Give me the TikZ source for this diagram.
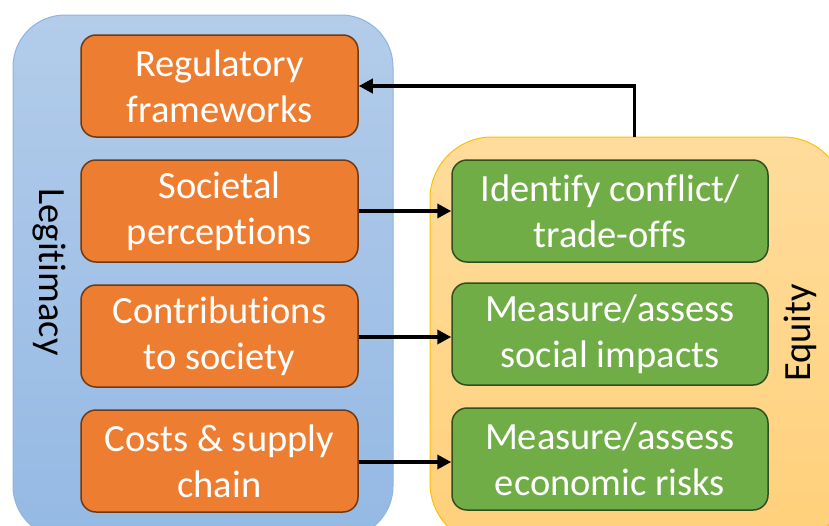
\documentclass[tikz,border=0pt]{standalone}
\usepackage{fontspec}
\setmainfont[RawFeature={-liga;-clig;-dlig}]{Carlito}
\usetikzlibrary{arrows.meta}
\definecolor{orfill}{HTML}{ED7D31}
\definecolor{ordraw}{HTML}{6E3A14}
\definecolor{grfill}{HTML}{70AD47}
\definecolor{grdraw}{HTML}{2F4F1F}
\definecolor{bltop}{HTML}{B3CCEA}
\definecolor{blbot}{HTML}{94B9E4}
\definecolor{bldraw}{HTML}{8DB4E2}
\definecolor{yltop}{HTML}{FFDC9C}
\definecolor{ylbot}{HTML}{FFD07A}
\definecolor{yldraw}{HTML}{FFC000}
\tikzset{
  box/.style={rounded corners=15pt, line width=1.5pt, minimum width=277pt, minimum height=102pt,
    text=white, align=center, inner sep=0pt,
    font=\fontsize{38.5}{46}\selectfont},
  obox/.style={box, fill=orfill, draw=ordraw},
  gbox/.style={box, fill=grfill, draw=grdraw, minimum width=316pt},
  conn/.style={line width=3.5pt, -{Triangle[length=14pt,width=14pt]}},
  lbl/.style={font=\fontsize{38.5}{44}\selectfont, text=black}
}
\begin{document}
\begin{tikzpicture}[x=1pt,y=-1pt]
\useasboundingbox (0,0) rectangle (829,525);
\clip (0,0) rectangle (829,525);
\fill[white] (0,0) rectangle (829,525);
% containers
\shade[top color=bltop, bottom color=blbot, draw=bldraw, line width=1pt, rounded corners=52pt]
  (13,15) rectangle (393,538);
\shade[top color=yltop, bottom color=ylbot, draw=yldraw, line width=1pt, rounded corners=62pt]
  (430,137) rectangle (845,545);
\node[lbl, rotate=-90] (legit) at (49,272) {Legitimacy};
\node[lbl, rotate=90] (equity) at (800,333) {Equity};
% orange boxes
\node[obox] (reg) at (219.5,86) {Regulatory\\frameworks};
\node[obox] (soc) at (219.5,211) {Societal\\perceptions};
\node[obox] (con) at (219.5,336) {Contributions\\to society};
\node[obox] (cost) at (219.5,461) {Costs \& supply\\chain};
% green boxes
\node[gbox] (ident) at (610,211) {Identify conflict/\\trade-offs};
\node[gbox] (social) at (610,334) {Measure/assess\\social impacts};
\node[gbox] (econ) at (610,459) {Measure/assess\\economic risks};
% connectors
\coordinate (top) at (634.5,86);
\draw[conn] (soc.east |- 0,211) -- (ident.west |- 0,211);
\draw[conn] (con.east |- 0,337) -- (social.west |- 0,337);
\draw[conn] (cost.east |- 0,462) -- (econ.west |- 0,462);
\draw[conn] (634.5,137) -- (top) -- (reg.east);
\end{tikzpicture}
\end{document}
